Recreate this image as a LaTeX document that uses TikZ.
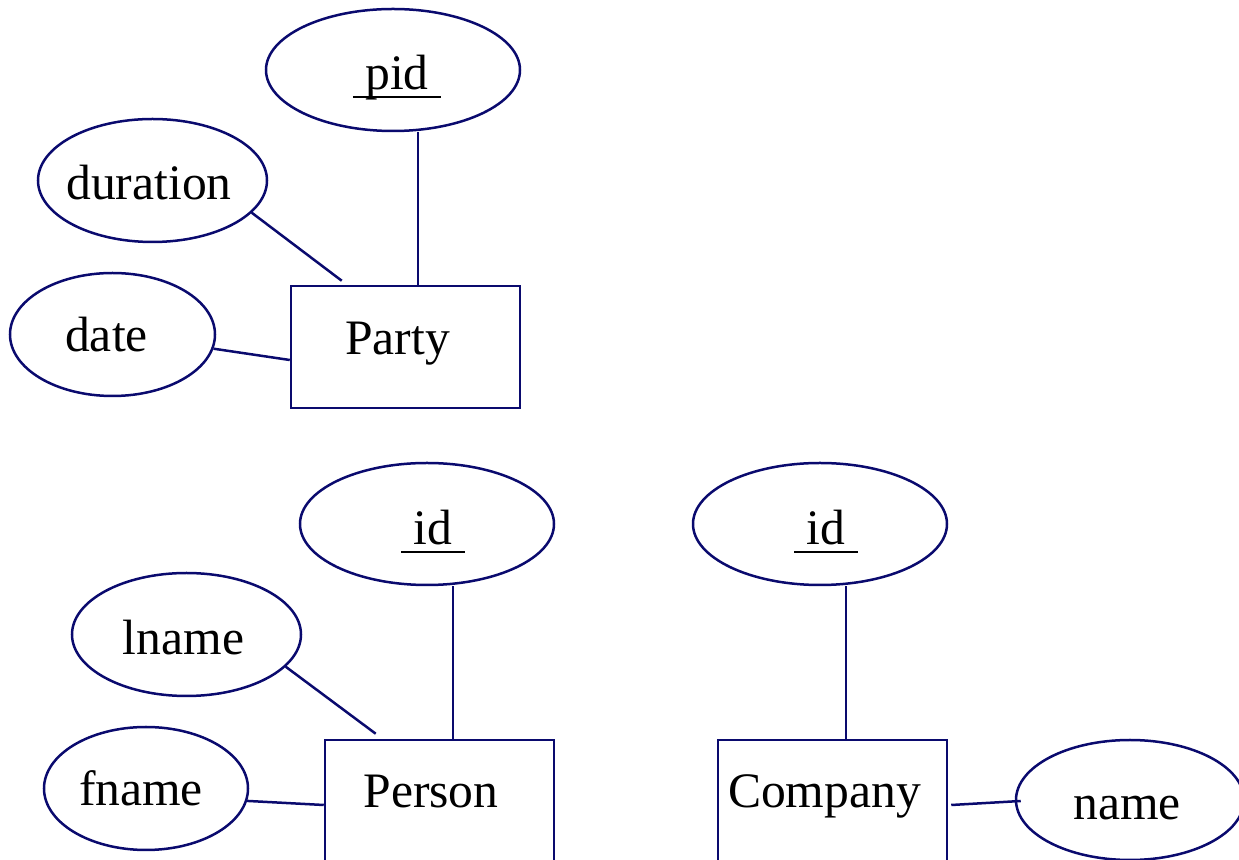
\documentclass[tikz,border=0pt]{standalone}
\usepackage{fontspec}
\setmainfont{Liberation Serif}
\usetikzlibrary{shapes.geometric,calc}
\definecolor{erline}{RGB}{10,10,110}
\newcommand{\keyul}[1]{\setbox0\hbox{\ #1\ }\rlap{\rule[-4pt]{\wd0}{1pt}}\box0}
\tikzset{
  attr/.style={ellipse, draw=erline, line width=1.25pt, inner sep=0pt},
  ent/.style={rectangle, draw=erline, line width=1.25pt, inner sep=0pt, minimum width=114.5pt, minimum height=61pt},
  lbl/.style={anchor=base, inner sep=0pt, font=\fontsize{24.8}{30}\selectfont},
  conn/.style={draw=erline, line width=1.25pt},
}
\begin{document}
\begin{tikzpicture}[x=0.5pt,y=-0.5pt]
\useasboundingbox (0,0) rectangle (1239,860);
\clip (0,0) rectangle (1239,860);
% Party
\node[attr, minimum width=127pt, minimum height=61pt] (pid) at (393,70) {};
\node[attr, minimum width=114.5pt, minimum height=61.5pt] (dur) at (152.5,180.5) {};
\node[attr, minimum width=102.5pt, minimum height=61.5pt] (date) at (112.5,334.5) {};
\node[ent] (party) at (405.5,347) {};
\node[lbl] (tpid) at (397,90) {\keyul{pid}};
\node[lbl] (tdur) at (149,200) {duration};
\node[lbl] (tdate) at (106.5,352) {date};
\node[lbl] (tparty) at (397.5,355) {Party};
% Person
\node[attr, minimum width=127pt, minimum height=61pt] (pidP) at (427,524) {};
\node[attr, minimum width=114.5pt, minimum height=61.5pt] (lname) at (186.5,634.5) {};
\node[attr, minimum width=102pt, minimum height=61.5pt] (fname) at (146,788.5) {};
\node[ent] (person) at (439.5,801) {};
\node[lbl] (tpidP) at (433,545) {\keyul{id}};
\node[lbl] (tlname) at (183.5,655) {lname};
\node[lbl] (tfname) at (141,806) {fname};
\node[lbl] (tperson) at (431,808) {Person};
% Company
\node[attr, minimum width=127pt, minimum height=61pt] (cid) at (820,524) {};
\node[attr, minimum width=114pt, minimum height=60pt] (name) at (1130,800) {};
\node[ent] (company) at (832.5,801) {};
\node[lbl] (tcid) at (826,545) {\keyul{id}};
\node[lbl] (tcompany) at (824.5,808) {Company};
\node[lbl] (tname) at (1127,820) {name};
% connectors
\coordinate (c1) at (418,0);
\coordinate (c2) at (453,0);
\coordinate (c3) at (846,0);
\draw[conn] (pid.south -| c1) -- (party.north -| c1);
\draw[conn] (dur.-18) -- ($(party.north west)+(52,-4)$);
\draw[conn] (date.-8) -- ($(party.west)+(0,13)$);
\draw[conn] (pidP.south -| c2) -- (person.north -| c2);
\draw[conn] (lname.-18) -- ($(person.north west)+(52,-5)$);
\draw[conn] (fname.-7) -- ($(person.west)+(0,4)$);
\draw[conn] (cid.south -| c3) -- (company.north -| c3);
\draw[conn] ($(company.east)+(3,4)$) -- ($(name.west)+(6,1)$);
\end{tikzpicture}
\end{document}
